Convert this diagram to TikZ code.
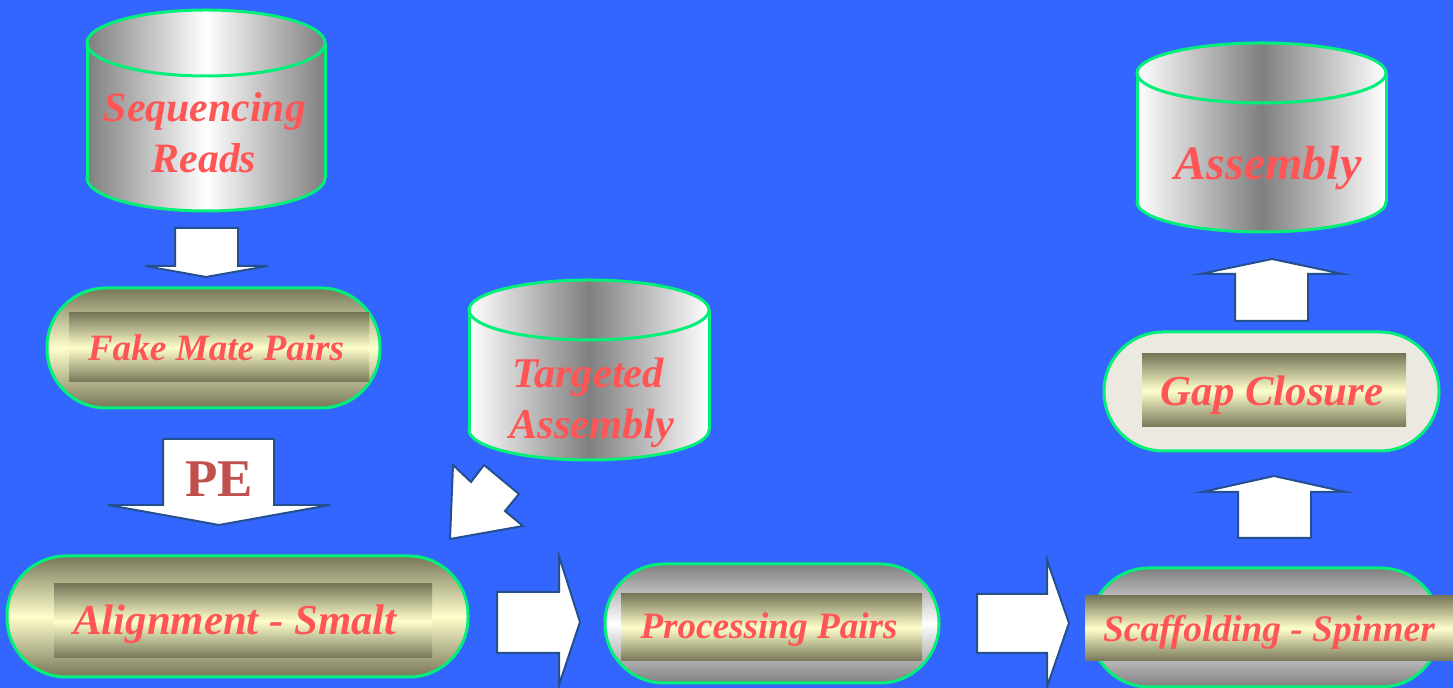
\documentclass[tikz,border=0pt]{standalone}
\usepackage{fontspec}
\setmainfont{Liberation Serif}
\definecolor{bg}{HTML}{3366FF}
\definecolor{edge}{HTML}{00F07A}
\definecolor{arr}{HTML}{25508F}
\definecolor{txt}{HTML}{FF5555}
\definecolor{pecol}{HTML}{C0504D}
\definecolor{olive}{HTML}{77775A}
\definecolor{cream}{HTML}{FFFFCC}
\definecolor{gapfill}{HTML}{ECEAE0}
\definecolor{cgray}{HTML}{7F7F7F}
\newcommand\drawcyl[6]{%
 \pgfmathsetmacro\cylcx{(#2+#3)/2}\pgfmathsetmacro\cylrx{(#3-#2)/2}%
 \path[#1] (#2,#4) rectangle (#3,#5);
 \path[#1] (\cylcx,#5) ellipse[x radius=\cylrx, y radius=#6];
 \path[#1] (\cylcx,#4) ellipse[x radius=\cylrx, y radius=#6];
 \draw[cylline] (\cylcx,#4) ellipse[x radius=\cylrx, y radius=#6];
 \draw[cylline] (#2,#4) -- (#2,#5) (#3,#4) -- (#3,#5);
 \begin{scope}\clip (#2-10,#5) rectangle (#3+10,#5+#6+10);
 \draw[cylline] (\cylcx,#5) ellipse[x radius=\cylrx, y radius=#6];\end{scope}
}
\tikzset{
 cylline/.style={draw=edge, line width=1.5pt},
 pill/.style={draw=edge, line width=1.5pt, rounded corners=29.5pt},
 olivefill/.style={top color=olive, bottom color=olive, middle color=cream},
 grayfill/.style={top color=cgray, bottom color=cgray, middle color=white},
 gwg/.style={left color=cgray, right color=cgray, middle color=white},
 wgw/.style={left color=white, right color=white, middle color=cgray},
 blockarrow/.style={draw=arr, line width=1pt, fill=white, line join=miter},
 lbl/.style={text=txt, anchor=base, inner sep=0pt},
}
\newcommand\lblfont[1]{\bfseries\itshape\fontsize{#1}{#1}\selectfont}
\begin{document}
\begin{tikzpicture}[x=0.5pt, y=-0.5pt]
\useasboundingbox (0,0) rectangle (1453,688);
\fill[bg] (0,0) rectangle (1453,688);

% cylinders
\drawcyl{gwg}{87}{325}{43}{178}{33}
\drawcyl{wgw}{469}{709}{310}{430}{30}
\drawcyl{wgw}{1137}{1386}{73}{202}{30}

% pills
\path[pill, olivefill] (47,288) rectangle (380,408);
\path[olivefill] (69,313) rectangle (369,382);
\path[pill, olivefill] (7,556) rectangle (468,677);
\path[olivefill] (54,584) rectangle (432,658);
\path[pill, grayfill] (605,564) rectangle (939,683);
\path[olivefill] (621,594) rectangle (922,661);
\path[pill, grayfill] (1090,568) rectangle (1440,687);
\path[olivefill] (1085,596) rectangle (1453,661);
\path[pill, fill=gapfill] (1104,332) rectangle (1439,451);
\path[olivefill] (1142,354) rectangle (1406,427);

% block arrows
\draw[blockarrow] (175,228) -- (238,228) -- (238,266) -- (268,266) -- (206,277) -- (145,266) -- (175,266) -- cycle;
\draw[blockarrow] (163,439) -- (274,439) -- (274,505) -- (330,505) -- (219,525) -- (108,505) -- (163,505) -- cycle;
\draw[blockarrow] (453,465) -- (471,482) -- (484,465) -- (519,494) -- (505,511) -- (523,526) -- (450,539) -- cycle;
\draw[blockarrow] (497,592) -- (559,592) -- (559,556) -- (580,622) -- (559,685) -- (559,653) -- (497,653) -- cycle;
\draw[blockarrow] (977,594) -- (1047,594) -- (1047,560) -- (1069,623) -- (1047,687) -- (1047,653) -- (977,653) -- cycle;
\draw[blockarrow] (1238,538) -- (1238,492) -- (1202,492) -- (1274,476) -- (1346,492) -- (1311,492) -- (1311,538) -- cycle;
\draw[blockarrow] (1235,321) -- (1235,274) -- (1200,274) -- (1272,259) -- (1343,274) -- (1308,274) -- (1308,321) -- cycle;

% labels
\node[lbl, font=\lblfont{20.9}] (seq1) at (205,122) {Sequencing};
\node[lbl, font=\lblfont{20.9}] (seq2) at (204,173) {Reads};
\node[lbl, font=\lblfont{18.6}] (fake) at (216,361) {Fake Mate Pairs};
\node[anchor=base, inner sep=0pt, text=pecol, font=\bfseries\fontsize{26.5}{26.5}\selectfont] (pe) at (219,497) {PE};
\node[lbl, font=\lblfont{21.4}] (align) at (235,635) {Alignment - Smalt};
\node[lbl, font=\lblfont{21.2}] (targ1) at (588,388) {Targeted};
\node[lbl, font=\lblfont{21.2}] (targ2) at (592,439) {Assembly};
\node[lbl, font=\lblfont{18.6}] (proc) at (769,639) {Processing Pairs};
\node[lbl, font=\lblfont{24}] (asm) at (1268,180) {Assembly};
\node[lbl, font=\lblfont{21.4}] (gap) at (1272,406) {Gap Closure};
\node[lbl, font=\lblfont{18.7}] (scaf) at (1269,642) {Scaffolding - Spinner};
\end{tikzpicture}
\end{document}
